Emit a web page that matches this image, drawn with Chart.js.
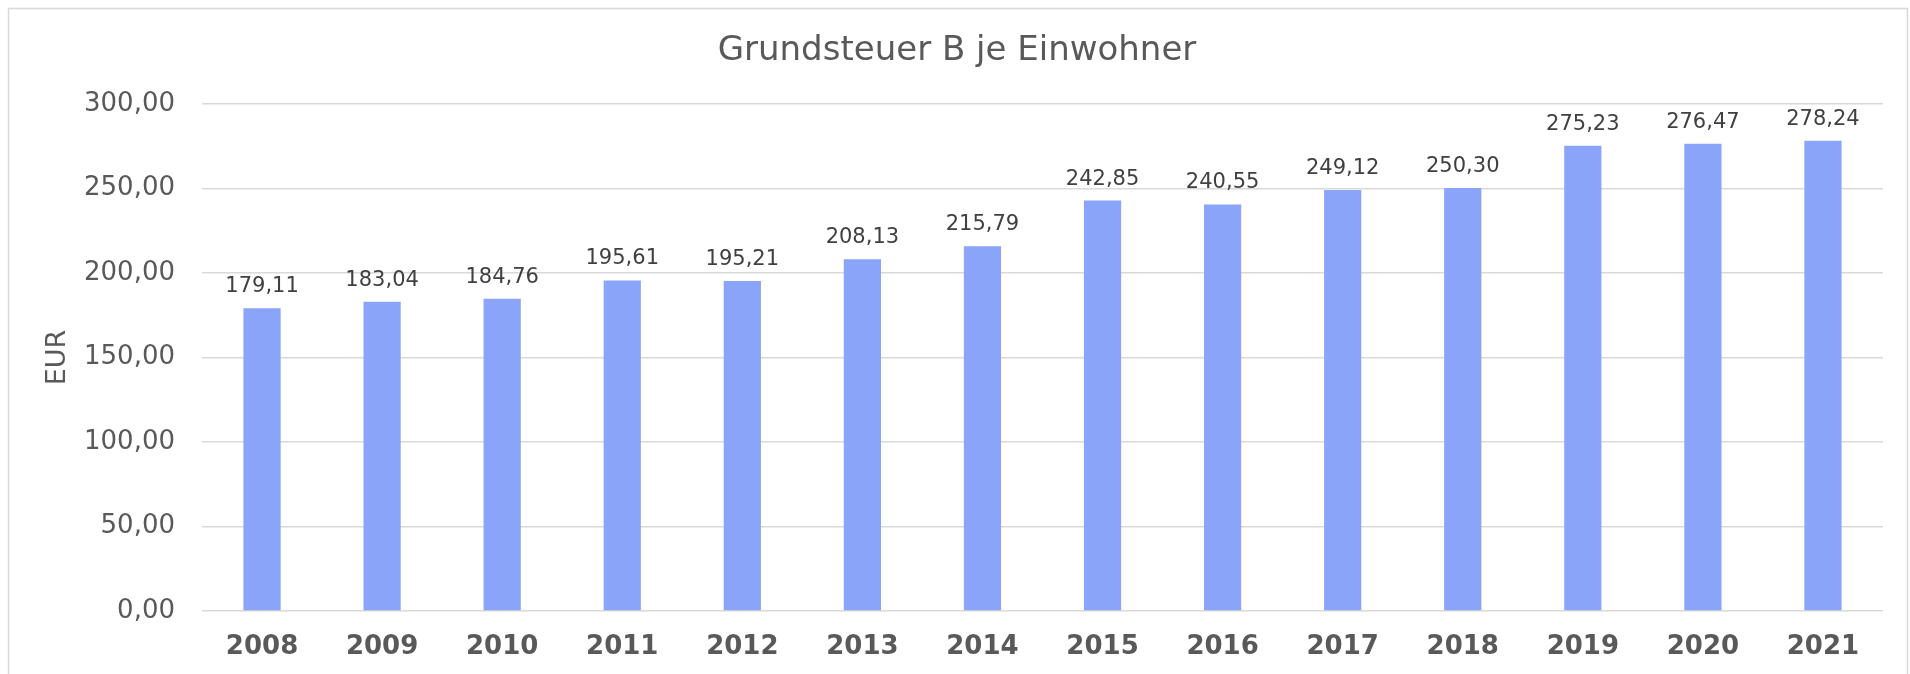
<!DOCTYPE html>
<html lang="de">
<head>
    <meta charset="UTF-8">
    <title>Grundsteuer B je Einwohner</title>
    <script src="https://cdn.jsdelivr.net/npm/chart.js"></script>
    <style>
        html, body { margin: 0; padding: 0; background: #fff; }
        #wrap { width: 1910px; height: 674px; position: relative; }
    </style>
</head>
<body>
    <div id="wrap"><canvas id="chart" width="1910" height="674"></canvas></div>
    <script>
        const titleText = 'Grundsteuer B je Einwohner';
        const years = ['2008', '2009', '2010', '2011', '2012', '2013', '2014',
                       '2015', '2016', '2017', '2018', '2019', '2020', '2021'];
        const eurPerHead = [179.11, 183.04, 184.76, 195.61, 195.21, 208.13, 215.79,
                            242.85, 240.55, 249.12, 250.30, 275.23, 276.47, 278.24];
        const yMin = 0;
        const yMax = 300;
        const yStep = 50;

        const fmt = v => Number(v).toFixed(2).replace('.', ',');

        // frame + title, drawn before the chart
        const framePlugin = {
            id: 'frame',
            beforeDraw(chart) {
                const ctx = chart.ctx;
                ctx.save();
                ctx.strokeStyle = '#d9d9d9';
                ctx.lineWidth = 1.5;
                ctx.strokeRect(8.5, 8.5, 1899, 700);
                ctx.fillStyle = '#595959';
                ctx.font = '34px "DejaVu Sans", sans-serif';
                ctx.textAlign = 'center';
                ctx.textBaseline = 'middle';
                ctx.fillText(titleText, 957, 51);
                ctx.restore();
            }
        };

        // value labels above each bar
        const valueLabels = {
            id: 'valueLabels',
            afterDatasetsDraw(chart) {
                const ctx = chart.ctx;
                const meta = chart.getDatasetMeta(0);
                ctx.save();
                ctx.fillStyle = '#404040';
                ctx.font = '21px "DejaVu Sans", sans-serif';
                ctx.textAlign = 'center';
                ctx.textBaseline = 'alphabetic';
                meta.data.forEach((bar, i) => {
                    ctx.fillText(fmt(eurPerHead[i]), bar.x, bar.y - 16);
                });
                ctx.restore();
            }
        };

        const ctx = document.getElementById('chart').getContext('2d');
        new Chart(ctx, {
            type: 'bar',
            data: {
                labels: years,
                datasets: [{
                    label: 'EUR',
                    data: eurPerHead,
                    backgroundColor: '#8AA4FA',
                    borderWidth: 0,
                    categoryPercentage: 1,
                    barPercentage: 0.31
                }]
            },
            options: {
                responsive: false,
                animation: false,
                layout: {
                    padding: { top: 104, right: 27, bottom: 0, left: 0 }
                },
                plugins: {
                    legend: { display: false },
                    title: { display: false },
                    tooltip: { enabled: false }
                },
                scales: {
                    x: {
                        grid: { display: false },
                        border: { display: false },
                        ticks: {
                            color: '#595959',
                            font: { family: '"DejaVu Sans", sans-serif', size: 26, weight: 'bold' },
                            padding: 13,
                            maxRotation: 0
                        },
                        afterFit(axis) { axis.height = 63; }
                    },
                    y: {
                        min: yMin,
                        max: yMax,
                        grid: { color: '#d9d9d9', lineWidth: 1.5, drawTicks: false },
                        border: { display: false },
                        ticks: {
                            stepSize: yStep,
                            color: '#595959',
                            font: { family: '"DejaVu Sans", sans-serif', size: 26 },
                            padding: 27,
                            callback: v => fmt(v)
                        },
                        title: {
                            display: true,
                            text: 'EUR',
                            color: '#595959',
                            font: { family: '"DejaVu Sans", sans-serif', size: 27 },
                            padding: { top: 42, bottom: 0 }
                        },
                        afterFit(axis) { axis.width = 202; }
                    }
                }
            },
            plugins: [framePlugin, valueLabels]
        });
    </script>
</body>
</html>
